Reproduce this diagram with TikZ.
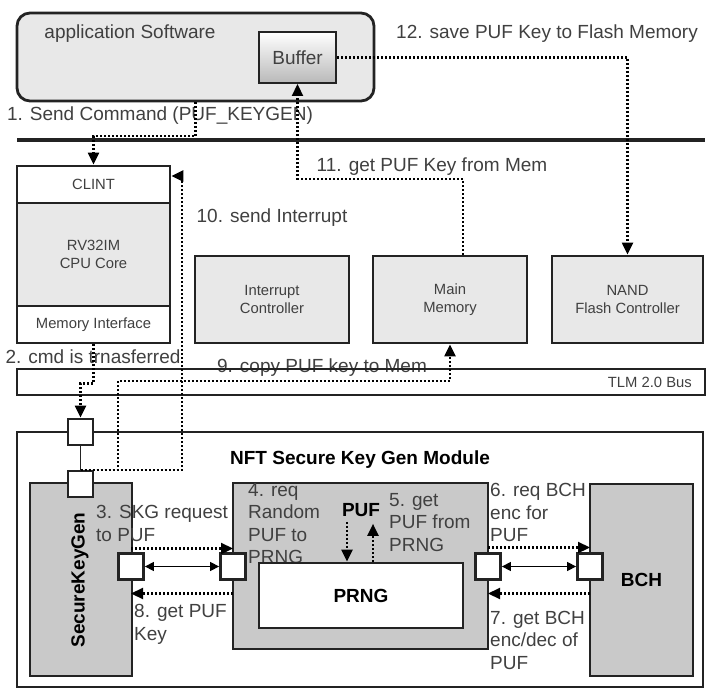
\documentclass[tikz,border=0pt]{standalone}
\usepackage{fontspec}
\setmainfont{Liberation Sans}
\usetikzlibrary{arrows.meta,positioning}
\definecolor{boxline}{RGB}{35,35,35}
\definecolor{lightfill}{RGB}{232,232,232}
\definecolor{darkfill}{RGB}{201,201,201}
\definecolor{labeltext}{RGB}{64,64,64}

\begin{document}
\begin{tikzpicture}[x=1pt, y=-1pt,
  blk/.style={shape=rectangle, draw=boxline, line width=2.8pt, fill=lightfill, text=labeltext, align=center, font=\fontsize{14.8}{17.8}\selectfont},
  unit/.style={shape=rectangle, draw=boxline, line width=2.8pt, fill=darkfill},
  port/.style={shape=rectangle, draw=boxline, line width=2.8pt, fill=white, minimum width=25pt, minimum height=26pt, inner sep=0pt},
  msg/.style={font=\fontsize{19}{22.5}\selectfont, text=labeltext, align=left, inner sep=0pt},
  ttl/.style={font=\fontsize{19}{22.5}\selectfont\bfseries, inner sep=0pt},
  flow/.style={draw=black, line width=2.2pt, dash pattern=on 2pt off 2pt, -{Triangle[length=12pt,width=11pt]}},
  link/.style={draw=black, line width=1.4pt, {Triangle[length=9pt,width=9pt]}-{Triangle[length=9pt,width=9pt]}}]
\useasboundingbox (0,0) rectangle (706,692);

\node [blk, rounded corners=13pt, minimum width=357pt, minimum height=88pt] (app) at (195.5,57) {};
\node [msg] (appname) at (130,34) {application Software};
\node [shape=rectangle, draw=boxline, line width=2pt, top color=white, bottom color=gray!55, minimum width=77pt, minimum height=51pt, font=\fontsize{19}{22.5}\selectfont, text=labeltext] (buf) at (297.5,57.5) {Buffer};

\coordinate (barL) at (17,140);
\coordinate (barR) at (705,140);
\draw [line width=4.5pt, boxline] (barL) -- (barR);

\node [blk, fill=white, minimum width=153pt, minimum height=37pt] (clint) at (93.5,184.5) {CLINT};
\node [blk, minimum width=153pt, minimum height=103pt, below of=clint, node distance=70pt] (core) {RV32IM\\CPU Core};
\node [blk, fill=white, minimum width=153pt, minimum height=37pt, below of=core, node distance=70pt] (memif) {Memory Interface};

\node [blk, minimum width=154pt, minimum height=87pt] (intc) at (272,299.5) {Interrupt\\Controller};
\node [blk, minimum width=154pt, minimum height=87pt, right of=intc, node distance=178pt] (mem) {Main\\Memory};
\node [blk, minimum width=151pt, minimum height=87pt, right of=mem, node distance=177.5pt] (nand) {NAND\\Flash Controller};

\node [msg] (s9) at (322,368) {9. copy PUF key to Mem};
\node [shape=rectangle, draw=boxline, line width=1.8pt, minimum width=688pt, minimum height=26pt] (bus) at (361,382) {};
\node [anchor=east, inner sep=0pt, text=labeltext, font=\fontsize{14.8}{17.8}\selectfont] (busname) at (692,382) {TLM 2.0 Bus};

\node [shape=rectangle, draw=boxline, line width=2.8pt, minimum width=686pt, minimum height=255pt] (module) at (360,559.5) {};
\node [ttl] (modname) at (360,460) {NFT Secure Key Gen Module};
\node [unit, minimum width=102pt, minimum height=193pt] (skg) at (81,579.5) {};
\node [ttl, rotate=90] (skgname) at (80,580) {SecureKeyGen};
\node [unit, minimum width=255pt, minimum height=166pt] (prngbox) at (360.5,566) {};
\node [msg, anchor=west] (s4) at (248,523.5) {4. req\\Random\\PUF to\\PRNG};
\node [shape=rectangle, draw=boxline, line width=2.8pt, fill=white, minimum width=204pt, minimum height=65pt, ttl] (prng) at (361,595.5) {PRNG};
\node [unit, ttl, minimum width=103pt, minimum height=192pt] (bch) at (641.5,580) {BCH};
\node [ttl] (puf) at (361,510) {PUF};

\node [port] (pA) at (80.5,432) {};
\node [port] (pB) at (80.5,484) {};
\node [port] (pC) at (131,566.5) {};
\node [port] (pD) at (233,566.5) {};
\node [port] (pE) at (488,566.5) {};
\node [port] (pF) at (590,566.5) {};
\draw [line width=1.4pt, boxline] (pA) -- (pB);

\node [msg] (s1) at (160,116) {1. Send Command (PUF\_KEYGEN)};
\node [msg] (s2) at (93,357) {2. cmd is trnasferred};
\node [msg, anchor=west] (s3) at (96,523.5) {3. SKG request\\to PUF};
\node [msg, anchor=west] (s5) at (389,522.5) {5. get\\PUF from\\PRNG};
\node [msg, anchor=west] (s6) at (490,512.5) {6. req BCH\\enc for\\PUF};
\node [msg, anchor=west] (s7) at (490,640) {7. get BCH\\enc/dec of\\PUF};
\node [msg, anchor=west] (s8) at (134,624.5) {8. get PUF\\Key};
\node [msg] (s10) at (272,218) {10. send Interrupt};
\node [msg] (s11) at (432,167) {11. get PUF Key from Mem};
\node [msg] (s12) at (547,34) {12. save PUF Key to Flash Memory};

\coordinate (irq) at (182,176);
\coordinate (cpy) at (118,381);

\draw [flow] (app.south) -- ++(0,34) -| (clint.north);
\draw [flow] (memif.south) -- ++(0,39) -| (pA.north);
\draw [flow] ([yshift=18pt]pC.center) -- ([yshift=18pt]pD.center);
\draw [flow] ([xshift=-14pt,yshift=-5pt]puf.south) -- ([xshift=-14pt]prng.north);
\draw [flow] ([xshift=12pt]prng.north) -- ([xshift=12pt,yshift=-7pt]puf.south);
\draw [flow] ([yshift=19pt]pE.center) -- ([yshift=19pt]pF.center);
\draw [flow] ([yshift=-27pt]pF.center) -- ([yshift=-27pt]pE.center);
\draw [flow] ([yshift=-27pt]pD.center) -- ([yshift=-27pt]pC.center);
\draw [flow] (pB.north) -| (cpy) -| (mem.south);
\draw [flow] (pB.north) -| (irq) -- (irq -| clint.east);
\draw [flow] ([xshift=13pt]mem.north) |- ([yshift=-95pt]buf.south) -- (buf.south);
\draw [flow] (buf.east) -| (nand.north);

\draw [link] (pC.east) -- (pD.west);
\draw [link] (pE.east) -- (pF.west);
\end{tikzpicture}
\end{document}
